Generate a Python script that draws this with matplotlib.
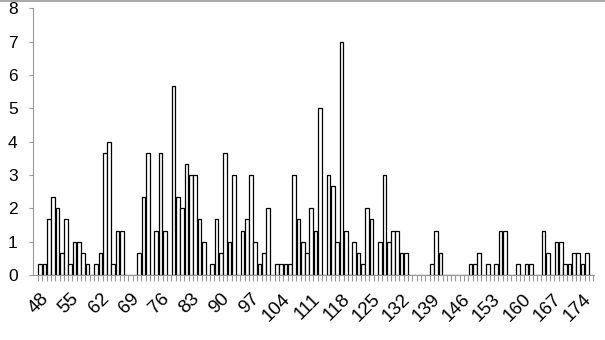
import matplotlib
matplotlib.use("Agg")
import matplotlib.pyplot as plt
import matplotlib.transforms as mtransforms
import numpy as np

plt.rcParams['font.family'] = ['Liberation Sans', 'DejaVu Sans']

# categories 48..176, one bar each
categories = list(range(48, 177))
values = [
    0.33, 0.33, 1.67, 2.33, 2.0, 0.67, 1.67, 0.33, 1.0, 1.0,      # 48-57
    0.67, 0.33, 0, 0.33, 0.67, 3.67, 4.0, 0.33, 1.33, 1.33,       # 58-67
    0, 0, 0, 0.67, 2.33, 3.67, 0, 1.33, 3.67, 1.33,               # 68-77
    0, 5.67, 2.33, 2.0, 3.33, 3.0, 3.0, 1.67, 1.0, 0,             # 78-87
    0.33, 1.67, 0.67, 3.67, 1.0, 3.0, 0, 1.33, 1.67, 3.0,         # 88-97
    1.0, 0.33, 0.67, 2.0, 0, 0.33, 0.33, 0.33, 0.33, 3.0,         # 98-107
    1.67, 1.0, 0.67, 2.0, 1.33, 5.0, 0, 3.0, 2.67, 1.0,           # 108-117
    7.0, 1.33, 0, 1.0, 0.67, 0.33, 2.0, 1.67, 0, 1.0,             # 118-127
    3.0, 1.0, 1.33, 1.33, 0.67, 0.67, 0, 0, 0, 0,                 # 128-137
    0, 0.33, 1.33, 0.67, 0, 0, 0, 0, 0, 0,                        # 138-147
    0.33, 0.33, 0.67, 0, 0.33, 0, 0.33, 1.33, 1.33, 0,            # 148-157
    0, 0.33, 0, 0.33, 0.33, 0, 0, 1.33, 0.67, 0,                  # 158-167
    1.0, 1.0, 0.33, 0.33, 0.67, 0.67, 0.33, 0.67, 0,              # 168-176
]
label_step = 7
y_ticks = [0, 1, 2, 3, 4, 5, 6, 7, 8]

fig = plt.figure(figsize=(6.05, 3.40), dpi=100)
ax = fig.add_axes([0.0545, 0.191, 0.928, 0.785])

x = np.arange(len(categories))
ax.bar(x, values, width=0.86, color='white', edgecolor='black', linewidth=0.9)

ax.set_xlim(-1.67, 128.8)
ax.set_ylim(0, 8)
ax.set_yticks(y_ticks)
ax.set_yticklabels([str(v) for v in y_ticks], fontsize=12.5)

major = x[::label_step]
ax.set_xticks(major)
ax.set_xticklabels([str(categories[i]) for i in major], fontsize=13.5,
                   rotation=45, ha='right', va='top', rotation_mode='anchor')
shift = mtransforms.ScaledTranslation(-4 / 100, -2 / 100, fig.dpi_scale_trans)
for lab in ax.get_xticklabels():
    lab.set_transform(lab.get_transform() + shift)
ax.set_xticks(np.arange(-0.5, len(categories) + 0.5, 1), minor=True)
ax.tick_params(axis='x', which='major', length=0, pad=11)
ax.tick_params(axis='x', which='minor', length=4, color='#999999', width=0.8)
ax.tick_params(axis='y', length=3, color='#999999', width=0.8, pad=8)

for s in ['top', 'right']:
    ax.spines[s].set_visible(False)
for s in ['left', 'bottom']:
    ax.spines[s].set_color('#999999')
    ax.spines[s].set_linewidth(0.8)

# chart border
fig.add_artist(plt.Line2D([0, 1], [0.998, 0.998], color='#999999', lw=1.2,
                          transform=fig.transFigure))

fig.savefig('out.png', dpi=100)
